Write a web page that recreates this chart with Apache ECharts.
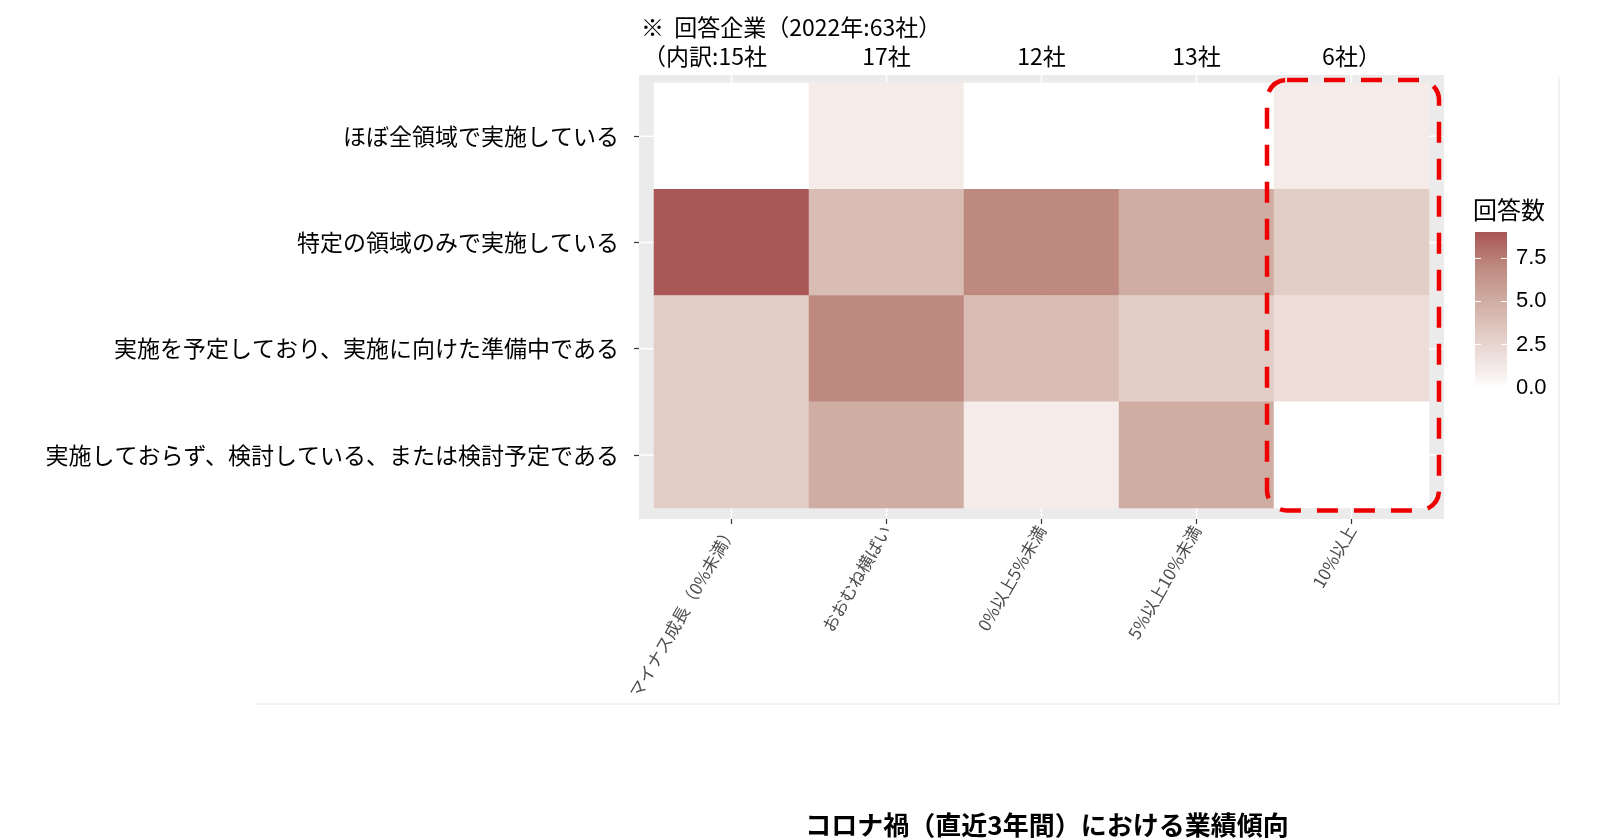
<!DOCTYPE html>
<html><head><meta charset="utf-8">
<script src="https://cdn.jsdelivr.net/npm/echarts@6/dist/echarts.min.js"></script>
<style>html,body{margin:0;padding:0;background:#fff}#c{width:1600px;height:838px}</style>
</head><body><div id="c"></div>
<script>
// ---- data ----
const growthCategories = ['マイナス成長（0%未満）', 'おおむね横ばい', '0%以上5%未満', '5%以上10%未満', '10%以上'];
const statusCategories = [
  'ほぼ全領域で実施している',
  '特定の領域のみで実施している',
  '実施を予定しており、実施に向けた準備中である',
  '実施しておらず、検討している、または検討予定である'
];
const rowAlmostAll   = [0, 1, 0, 0, 1];
const rowSpecific    = [9, 4, 7, 5, 3];
const rowPlanned     = [3, 7, 4, 3, 2];
const rowConsidering = [3, 5, 1, 5, 0];
const legendTicks = [0, 2.5, 5, 7.5];
const surveyYear = 2022;
const legendTitle = '回答数';
const xTitle = 'コロナ禍（直近3年間）における業績傾向';
const highlightColumn = 4;

const rows = [rowAlmostAll, rowSpecific, rowPlanned, rowConsidering];
const heatData = [];
rows.forEach((r, yi) => r.forEach((v, xi) => heatData.push([xi, yi, v])));
const columnTotals = growthCategories.map((_, xi) => rows.reduce((s, r) => s + r[xi], 0));
const grandTotal = columnTotals.reduce((a, b) => a + b, 0);
const maxCount = Math.max(...rows.flat());

// ---- style ----
const FONT = '"Noto Sans CJK JP", "Noto Sans", sans-serif';
const colorStops = ['#FFFFFF', '#F5ECEA', '#ECDDD9', '#E3CDC7', '#D9BCB4', '#CFADA3', '#C69B91', '#BE8A80', '#B37069', '#A85656'];
const gradStops = colorStops.map((c, i) => ({offset: 1 - i / (colorStops.length - 1), color: c})).reverse();

const chart = echarts.init(document.getElementById('c'), null, {renderer: 'canvas'});
chart.setOption({
  animation: false,
  backgroundColor: '#fff',
  grid: [
    {left: 654, top: 83, width: 775, height: 425},
    {left: 1475, top: 232, width: 32, height: 156}
  ],
  visualMap: {show: false, type: 'continuous', min: 0, max: maxCount, seriesIndex: 0, inRange: {color: colorStops}},
  xAxis: [
    {type: 'category', gridIndex: 0, data: growthCategories, position: 'bottom', offset: 11,
     axisLine: {show: false},
     axisTick: {show: true, alignWithLabel: true, length: 5, lineStyle: {color: '#333', width: 1.2}},
     axisLabel: {rotate: 60, margin: 8, fontSize: 17, color: '#4D4D4D', fontFamily: FONT, interval: 0},
     splitLine: {show: false}},
    {type: 'category', gridIndex: 1, data: [''], show: false}
  ],
  yAxis: [
    {type: 'category', gridIndex: 0, data: statusCategories, inverse: true, offset: 15,
     axisLine: {show: false},
     axisTick: {show: true, alignWithLabel: true, length: 5, lineStyle: {color: '#333', width: 1.2}},
     axisLabel: {margin: 20, fontSize: 23, color: '#000', fontFamily: FONT, interval: 0},
     splitLine: {show: false}},
    {type: 'value', gridIndex: 1, min: 0, max: maxCount, interval: 2.5, position: 'right', z: 5,
     axisLine: {show: false},
     axisTick: {show: true, inside: true, length: 6, lineStyle: {color: '#fff', width: 1}, customValues: legendTicks},
     axisLabel: {margin: 9, fontSize: 22, color: '#000', fontFamily: '"Liberation Sans", Arial, sans-serif',
       customValues: legendTicks, formatter: v => legendTicks.includes(v) ? v.toFixed(1) : ''},
     splitLine: {show: false}},
    {type: 'value', gridIndex: 1, min: 0, max: maxCount, interval: 2.5, position: 'left', z: 5,
     axisLine: {show: false},
     axisTick: {show: true, inside: true, length: 6, lineStyle: {color: '#fff', width: 1}, customValues: legendTicks},
     axisLabel: {show: false}, splitLine: {show: false}}
  ],
  series: [
    {type: 'heatmap', xAxisIndex: 0, yAxisIndex: 0, data: heatData, itemStyle: {borderWidth: 0}, emphasis: {disabled: true}, silent: true},
    {type: 'bar', xAxisIndex: 1, yAxisIndex: 1, data: [maxCount], barWidth: '100%', silent: true,
     itemStyle: {color: new echarts.graphic.LinearGradient(0, 0, 0, 1, gradStops)}}
  ]
});

// ---- annotations derived from axes ----
const colCenters = growthCategories.map((_, i) => chart.convertToPixel({xAxisIndex: 0}, i));
const rowCenters = statusCategories.map((_, i) => chart.convertToPixel({yAxisIndex: 0}, i));
const bandW = colCenters[1] - colCenters[0];
const bandH = rowCenters[1] - rowCenters[0];
const tileL = colCenters[0] - bandW / 2, tileR = colCenters[colCenters.length - 1] + bandW / 2;
const tileT = rowCenters[0] - bandH / 2, tileB = rowCenters[rowCenters.length - 1] + bandH / 2;
const panL = tileL - 15, panR = tileR + 15, panT = tileT - 8, panB = tileB + 11;

const els = [];
els.push({type: 'rect', z: 0, shape: {x: panL, y: panT, width: panR - panL, height: panB - panT}, style: {fill: '#EBEBEB'}, silent: true});
colCenters.forEach(cx => els.push({type: 'line', z: 1, shape: {x1: cx, y1: panT, x2: cx, y2: panB}, style: {stroke: '#fff', lineWidth: 1.5}, silent: true}));
rowCenters.forEach(cy => els.push({type: 'line', z: 1, shape: {x1: panL, y1: cy, x2: panR, y2: cy}, style: {stroke: '#fff', lineWidth: 1.5}, silent: true}));
// highlight box
const hc = colCenters[highlightColumn];
els.push({type: 'rect', z: 50, shape: {x: hc - bandW / 2 - 7, y: tileT - 3, width: bandW + 17, height: tileB - tileT + 5.5, r: 20},
  style: {fill: 'none', stroke: '#EE0000', lineWidth: 4.5, lineDash: [21, 16]}, silent: true});
// top notes
els.push({type: 'text', z: 50, style: {text: `※  回答企業（${surveyYear}年:${grandTotal}社）`, x: panL + 2, y: 27,
  font: `23px ${FONT}`, fill: '#000', textAlign: 'left', textVerticalAlign: 'middle'}, silent: true});
columnTotals.forEach((t, i) => {
  let txt = `${t}社`;
  if (i === 0) txt = `（内訳:${t}社`;
  if (i === columnTotals.length - 1) txt = `${t}社）`;
  els.push({type: 'text', z: 50, style: {text: txt, x: i === 0 ? panL + 4 : colCenters[i], y: 56,
    font: `23px ${FONT}`, fill: '#000', textAlign: i === 0 ? 'left' : 'center', textVerticalAlign: 'middle'}, silent: true});
});
// legend title
els.push({type: 'text', z: 50, style: {text: legendTitle, x: 1473, y: 210, font: `24px ${FONT}`, fill: '#000', textAlign: 'left', textVerticalAlign: 'middle'}, silent: true});
// x title
els.push({type: 'text', z: 50, style: {text: xTitle, x: 1047, y: 825, font: `bold 26px ${FONT}`, fill: '#000', textAlign: 'center', textVerticalAlign: 'middle'}, silent: true});
// faint frame lines
els.push({type: 'line', z: 0, shape: {x1: 255, y1: 704, x2: 1559, y2: 704}, style: {stroke: '#E6E6E6', lineWidth: 1}, silent: true});
els.push({type: 'line', z: 0, shape: {x1: 1559, y1: 77, x2: 1559, y2: 704}, style: {stroke: '#E6E6E6', lineWidth: 1}, silent: true});

chart.setOption({graphic: {elements: els}});
</script>
</body></html>
